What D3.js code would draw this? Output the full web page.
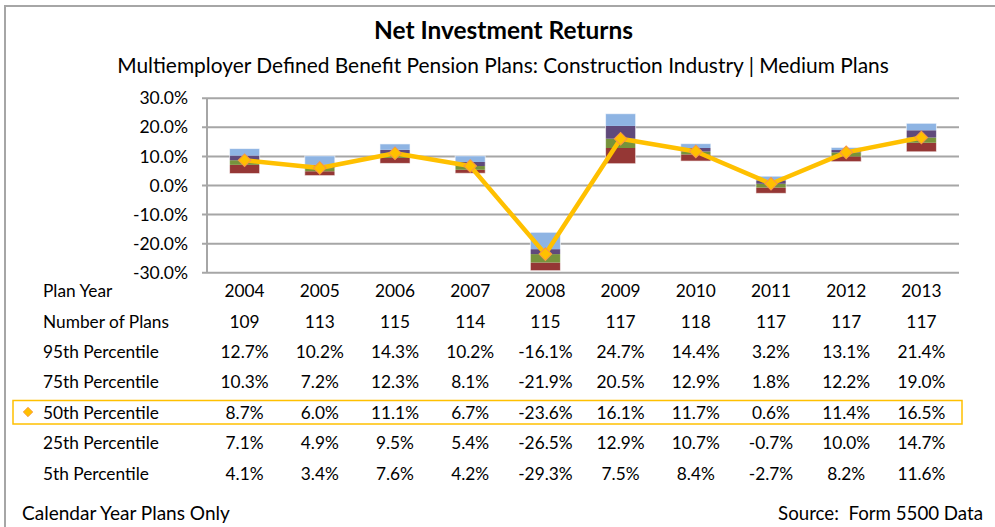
<!DOCTYPE html>
<html>
<head>
<meta charset="utf-8">
<script src="https://cdn.jsdelivr.net/npm/d3@7"></script>
<style>
  html, body { margin: 0; padding: 0; background: #fff; }
  svg { display: block; font-family: Lato, "Open Sans", sans-serif; }
</style>
</head>
<body>
<svg id="chart" width="995" height="527"></svg>
<script>
const years = ["2004","2005","2006","2007","2008","2009","2010","2011","2012","2013"];
const numPlans = [109,113,115,114,115,117,118,117,117,117];
const p95 = [12.7,10.2,14.3,10.2,-16.1,24.7,14.4,3.2,13.1,21.4];
const p75 = [10.3,7.2,12.3,8.1,-21.9,20.5,12.9,1.8,12.2,19.0];
const p50 = [8.7,6.0,11.1,6.7,-23.6,16.1,11.7,0.6,11.4,16.5];
const p25 = [7.1,4.9,9.5,5.4,-26.5,12.9,10.7,-0.7,10.0,14.7];
const p5  = [4.1,3.4,7.6,4.2,-29.3,7.5,8.4,-2.7,8.2,11.6];
const yTicks = [30,20,10,0,-10,-20,-30];
const title = "Net Investment Returns";
const subtitle = "Multiemployer Defined Benefit Pension Plans: Construction Industry | Medium Plans";

const svg = d3.select("#chart");
const fmt = v => v.toFixed(1) + "%";

function fitWidth(sel, target) {
  const node = sel.node();
  const w = node.getComputedTextLength();
  const fs = parseFloat(sel.attr("font-size"));
  if (w > 0) sel.attr("font-size", fs * target / w);
}

// Frame
svg.append("rect").attr("x",5).attr("y",6).attr("width",1000).attr("height",540)
  .attr("fill","none").attr("stroke","#a6a6a6").attr("stroke-width",2);

// Titles
const t1 = svg.append("text").attr("x",503.5).attr("y",38.5).attr("text-anchor","middle")
  .attr("font-size",24).attr("font-weight","bold").attr("fill","#000").text(title);
fitWidth(t1, 259);
const t2 = svg.append("text").attr("x",503).attr("y",73.3).attr("text-anchor","middle")
  .attr("font-size",20.5).attr("fill","#000").text(subtitle);
fitWidth(t2, 772);

const x = d3.scaleBand().domain(years).range([207,959]).paddingInner(0.6).paddingOuter(0.3);
const y = d3.scaleLinear().domain([-30,30]).range([272.7,98.3]);
const cx = d => x(d) + x.bandwidth()/2;

// gridlines
svg.append("g").selectAll("line").data(yTicks).join("line")
  .attr("x1",202).attr("x2",959).attr("y1",d=>y(d)).attr("y2",d=>y(d))
  .attr("stroke","#a6a6a6").attr("stroke-width",2);
svg.append("line").attr("x1",207).attr("x2",207).attr("y1",y(30)).attr("y2",y(-30))
  .attr("stroke","#a6a6a6").attr("stroke-width",2);

// y tick labels
svg.append("g").selectAll("text").data(yTicks).join("text")
  .attr("x",188).attr("y",d=>y(d)).attr("dy","0.35em").attr("text-anchor","end")
  .attr("font-size",17.5).attr("fill","#000").text(d=>fmt(d));

// stacked floating bars
const segs = [
  {lo:p5, hi:p25, color:"#953735"},
  {lo:p25, hi:p50, color:"#77933c"},
  {lo:p50, hi:p75, color:"#604a7b"},
  {lo:p75, hi:p95, color:"#8eb4e3"}
];
const gb = svg.append("g");
segs.forEach(s => {
  gb.append("g").selectAll("rect").data(years).join("rect")
    .attr("x", d => x(d))
    .attr("width", x.bandwidth())
    .attr("y", (d,i) => y(s.hi[i]))
    .attr("height", (d,i) => y(s.lo[i]) - y(s.hi[i]))
    .attr("fill", s.color);
});
gb.append("g").selectAll("rect").data(years).join("rect")
  .attr("x", d => x(d)).attr("width", x.bandwidth())
  .attr("y",(d,i)=>y(p95[i])).attr("height",(d,i)=>y(p5[i])-y(p95[i]))
  .attr("fill","none").attr("stroke","#ffffff").attr("stroke-opacity",0.6).attr("stroke-width",1);

// median line
const line = d3.line().x((d,i)=>cx(years[i])).y(d=>y(d));
svg.append("path").datum(p50).attr("d",line).attr("fill","none")
  .attr("stroke","#ffc000").attr("stroke-width",4.5).attr("stroke-linejoin","round");
svg.append("g").selectAll("path").data(p50).join("path")
  .attr("d", d3.symbol().type(d3.symbolSquare).size(80)())
  .attr("transform",(d,i)=>`translate(${cx(years[i])},${y(d)}) rotate(45)`)
  .attr("fill","#ffc000").attr("stroke","#f79646").attr("stroke-width",1);

// data table
const rows = [
  {label:"Plan Year", vals:years, y:291},
  {label:"Number of Plans", vals:numPlans.map(String), y:321.5},
  {label:"95th Percentile", vals:p95.map(fmt), y:352},
  {label:"75th Percentile", vals:p75.map(fmt), y:382},
  {label:"50th Percentile", vals:p50.map(fmt), y:412.5},
  {label:"25th Percentile", vals:p25.map(fmt), y:443},
  {label:"5th Percentile", vals:p5.map(fmt), y:474}
];
svg.append("rect").attr("x",13).attr("y",400.5).attr("width",949).attr("height",23.5)
  .attr("fill","none").attr("stroke","#ffc000").attr("stroke-width",1.5);
svg.append("path").attr("d", d3.symbol().type(d3.symbolSquare).size(45)())
  .attr("transform","translate(28,412) rotate(45)")
  .attr("fill","#ffc000").attr("stroke","#f79646").attr("stroke-width",0.8);

const gt = svg.append("g").attr("font-size",17.3).attr("fill","#000");
rows.forEach(r => {
  gt.append("text").attr("x",43).attr("y",r.y).attr("dy","0.35em").text(r.label);
  gt.append("g").selectAll("text").data(r.vals).join("text")
    .attr("x",(d,i)=>cx(years[i])).attr("y",r.y).attr("dy","0.35em")
    .attr("text-anchor","middle").text(d=>d);
});

// footer
const f1 = svg.append("text").attr("x",22).attr("y",513).attr("dy","0.35em")
  .attr("font-size",19).attr("fill","#000").text("Calendar Year Plans Only");
fitWidth(f1, 208);
const f2 = svg.append("text").attr("x",983).attr("y",513).attr("dy","0.35em").attr("text-anchor","end")
  .attr("font-size",19).attr("fill","#000").text("Source:\u00a0 Form 5500 Data");
fitWidth(f2, 205);
</script>
</body>
</html>
